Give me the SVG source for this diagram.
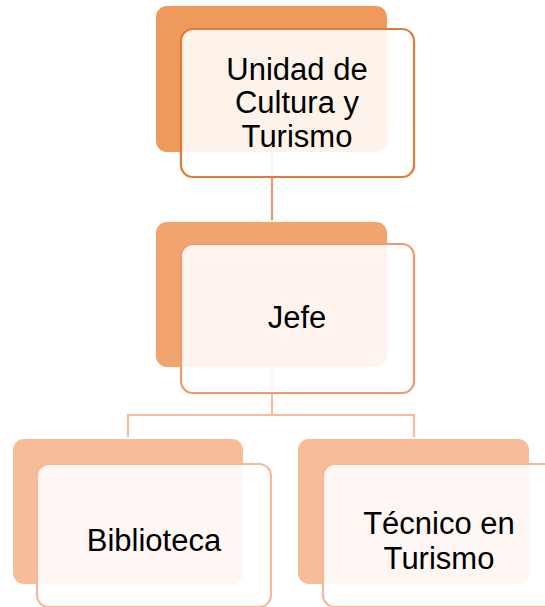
<svg xmlns="http://www.w3.org/2000/svg" width="545" height="607" viewBox="0 0 545 607">
<style>
.front{fill:#ffffff;fill-opacity:0.88;stroke-width:2.2}
.txt{font-family:"Liberation Sans",Arial,sans-serif;font-size:31px;fill:#000;text-anchor:middle}
.conn{fill:none;stroke-width:2.2}
</style>
<rect width="545" height="607" fill="#ffffff"/>
<g id="connectors">
<line class="conn" x1="272" y1="150" x2="272" y2="220" stroke="#F0956C"/>
<polyline class="conn" points="272,367 272,415 128,415 128,437" stroke="#F6BBA0"/>
<polyline class="conn" points="272,415 414,415 414,437" stroke="#F6BBA0"/>
</g>
<g id="node-unidad">
<rect x="156" y="6" width="231" height="146" rx="11" fill="#EF9A5B"/>
<rect class="front" x="181" y="29" width="233" height="148" rx="12" stroke="#E07B3A"/>
<text class="txt" x="297" y="80">Unidad de</text>
<text class="txt" x="297" y="113">Cultura y</text>
<text class="txt" x="297" y="147">Turismo</text>
</g>
<g id="node-jefe">
<rect x="156" y="222" width="231" height="145" rx="11" fill="#F0A46E"/>
<rect class="front" x="181" y="244" width="233" height="149" rx="12" stroke="#F09870"/>
<text class="txt" x="297" y="328">Jefe</text>
</g>
<g id="node-biblioteca">
<rect x="13" y="439" width="230" height="145" rx="11" fill="#F6BD98"/>
<rect class="front" x="37" y="464" width="234" height="143" rx="12" stroke="#F5B99C"/>
<text class="txt" x="154" y="551">Biblioteca</text>
</g>
<g id="node-tecnico">
<rect x="298" y="439" width="231" height="145" rx="11" fill="#F6BD98"/>
<rect class="front" x="323" y="464" width="234" height="143" rx="12" stroke="#F5B99C"/>
<text class="txt" x="439" y="534">Técnico en</text>
<text class="txt" x="439" y="569">Turismo</text>
</g>
</svg>
